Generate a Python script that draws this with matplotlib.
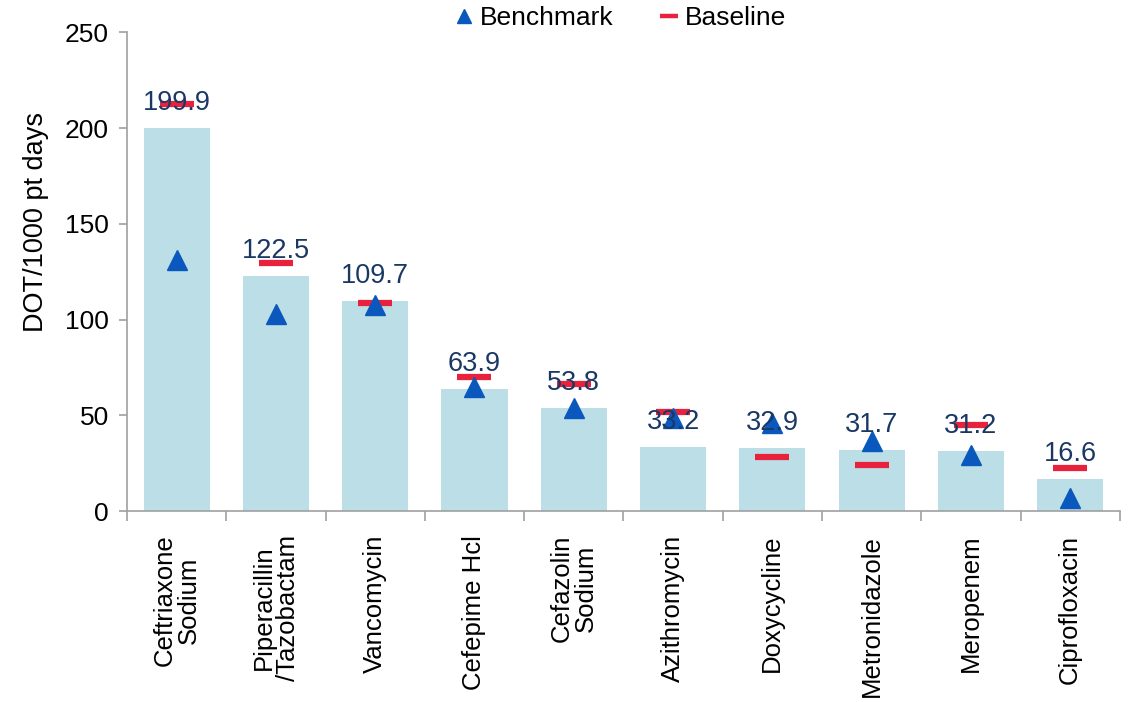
import numpy as np
import matplotlib
matplotlib.use("Agg")
import matplotlib.pyplot as plt
from matplotlib.lines import Line2D
from matplotlib.ticker import FixedLocator

plt.rcParams['font.family'] = ['Liberation Sans', 'DejaVu Sans']

drugs = ["Ceftriaxone\nSodium", "Piperacillin\n/Tazobactam", "Vancomycin", "Cefepime Hcl",
         "Cefazolin\nSodium", "Azithromycin", "Doxycycline", "Metronidazole", "Meropenem",
         "Ciprofloxacin"]
dot_values = [199.9, 122.5, 109.7, 63.9, 53.8, 33.2, 32.9, 31.7, 31.2, 16.6]
benchmark = [131.0, 102.8, 107.5, 64.7, 54.0, 48.5, 46.0, 36.8, 29.2, 6.8]
baseline = [212.4, 129.4, 108.5, 70.1, 66.3, 51.7, 28.4, 23.8, 44.7, 22.4]

bar_color = "#bcdfe7"
tri_color = "#0a58bd"
red_color = "#e8223d"
label_color = "#1a3864"
axis_color = "#a0a0a0"

fig = plt.figure(figsize=(11.3, 7.02), dpi=100)
ax = fig.add_axes([0.1124, 0.272, 0.8786, 0.682])

x = np.arange(len(drugs))
ax.bar(x, dot_values, width=0.665, color=bar_color, zorder=1)

ax.plot(x, benchmark, linestyle="none", marker="^", markersize=15,
        color=tri_color, zorder=3)
ax.plot(x, baseline, linestyle="none", marker="_", markersize=24,
        markeredgewidth=4.5, color=red_color, zorder=2)

for xi, v in zip(x, dot_values):
    ax.annotate(f"{v:.1f}", (xi, v), xytext=(0, 18), textcoords="offset points",
                ha="center", va="center", fontsize=19.5, color=label_color, zorder=4)

ax.set_xlim(-0.5, len(drugs) - 0.5)
ax.set_ylim(0, 250)
ax.set_yticks([0, 50, 100, 150, 200, 250])
ax.set_xticks(x)
ax.set_xticklabels(drugs, rotation=90, fontsize=18.5, ha="center", va="top",
                   multialignment="center", linespacing=1.0)
ax.xaxis.set_minor_locator(FixedLocator(np.arange(-0.5, len(drugs), 1.0)))
ax.tick_params(axis="x", which="major", length=0, pad=17)
ax.tick_params(axis="x", which="minor", length=7, color=axis_color, width=1.2)
ax.tick_params(axis="y", length=6, color=axis_color, width=1.2, labelsize=19, pad=7)

for side in ["top", "right"]:
    ax.spines[side].set_visible(False)
for side in ["left", "bottom"]:
    ax.spines[side].set_color(axis_color)
    ax.spines[side].set_linewidth(1.2)

ax.set_ylabel("DOT/1000 pt days", fontsize=19.5)
ax.yaxis.set_label_coords(-0.079, 0.603)

handles = [
    Line2D([], [], linestyle="none", marker="^", markersize=10, color=tri_color),
    Line2D([], [], linestyle="none", marker="_", markersize=13, markeredgewidth=3.2,
           color=red_color),
]
ax.legend(handles, ["Benchmark", "Baseline"], loc="center", bbox_to_anchor=(0.495, 1.029),
          ncol=2, frameon=False, fontsize=19, handletextpad=0.1, columnspacing=1.6,
          handlelength=1.0)

fig.savefig("out.png", dpi=100)
